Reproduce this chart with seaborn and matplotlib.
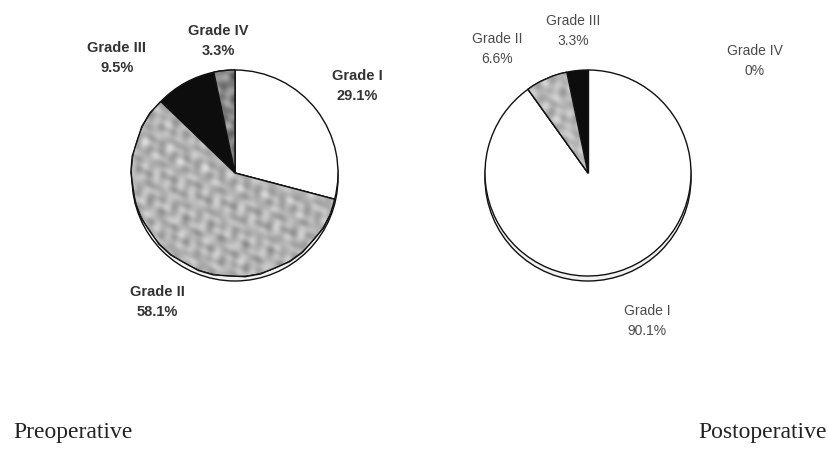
import numpy as np
import matplotlib
matplotlib.use("Agg")
import matplotlib.pyplot as plt
import seaborn as sns
from matplotlib.patches import Circle

# Severity grades and their share of patients (%)
grades = ["Grade I", "Grade II", "Grade III", "Grade IV"]
pre_values = [29.1, 58.1, 9.5, 3.3]
post_values = [90.1, 6.6, 3.3, 0]
panel_titles = ["Preoperative", "Postoperative"]

sns.set_theme(style="white")
plt.rcParams["font.family"] = ["Liberation Sans", "DejaVu Sans"]

W, H = 829, 449
fig = plt.figure(figsize=(W / 100, H / 100), dpi=100)
ax = fig.add_axes([0, 0, 1, 1])
ax.set_xlim(0, W)
ax.set_ylim(0, H)
ax.set_aspect("equal")
ax.axis("off")


def yup(y):
    """Convert a top-down pixel row into the upward data axis."""
    return H - y


def mottle(n):
    """Soft quasi-periodic stipple built from plane waves in several directions."""
    yy, xx = np.mgrid[0:n, 0:n].astype(float)
    t = np.zeros((n, n))
    angles = [0.0, 0.71, 1.33, 1.97, 2.64, 0.37, 2.28, 1.02]
    waves = [12.0, 14.5, 11.5, 16.0, 13.0, 23.0, 19.0, 8.0]
    weights = [1.0, 0.9, 1.0, 0.8, 0.9, 0.7, 0.7, 0.35]
    phases = [0.0, 1.7, 3.1, 4.4, 5.6, 2.3, 0.9, 3.9]
    for a, lam, w, ph in zip(angles, waves, weights, phases):
        k = 2 * np.pi / lam
        t += w * np.cos(k * (xx * np.cos(a) + yy * np.sin(a)) + ph)
    return t / np.abs(t).max()


# (centre x, centre y, radius) in pixels, shade per grade
panels = [
    dict(values=pre_values, center=(235, 173), radius=103,
         shades=[None, (0.70, 0.16), None, (0.52, 0.2)],
         colors=["white", "#b3b3b3", "#0d0d0d", "#858585"],
         label_pos=[(357, 86), (157, 302), (117, 58), (218, 41)],
         label_style=dict(fontweight="bold", color="#333333", fontsize=10.5),
         title_pos=(13, 433), title_ha="left"),
    dict(values=post_values, center=(588, 173), radius=103,
         shades=[None, (0.72, 0.15), None, (0.52, 0.2)],
         colors=["white", "#b8b8b8", "#0d0d0d", "#858585"],
         label_pos=[(647, 321), (497, 49), (573, 31), (755, 61)],
         label_style=dict(fontweight="normal", color="#4a4a4a", fontsize=10),
         title_pos=(827, 433), title_ha="right"),
]

for i, p in enumerate(panels):
    cx, cy = p["center"]
    r = p["radius"]
    c = (cx, yup(cy))

    # disc thickness seen below the pie face
    ax.add_patch(Circle((c[0], c[1] - 5), r, facecolor="#f2f2f2",
                        edgecolor="#111111", lw=1.0, zorder=1))

    wedges, _ = ax.pie(p["values"], center=c, radius=r, startangle=90,
                       counterclock=False, colors=p["colors"],
                       wedgeprops=dict(edgecolor="#111111", linewidth=1.0))
    for w in wedges:
        w.set_zorder(2)

    tex = mottle(2 * r)
    for w, shade in zip(wedges, p["shades"]):
        if shade is None:
            continue
        base, amp = shade
        img = ax.imshow(np.clip(base + amp * tex, 0, 1), cmap="gray",
                        vmin=0, vmax=1, origin="lower",
                        extent=(c[0] - r, c[0] + r, c[1] - r, c[1] + r),
                        zorder=2.5, interpolation="bilinear")
        img.set_clip_path(w)
        # redraw the outline on top of the texture
        ax.add_patch(plt.Polygon(w.get_path().transformed(w.get_patch_transform()).vertices,
                                 closed=True, fill=False, edgecolor="#111111",
                                 lw=1.0, zorder=3))

    for g, v, (lx, ly) in zip(grades, p["values"], p["label_pos"]):
        ax.text(lx, yup(ly), f"{g}\n{v:g}%", ha="center", va="center",
                linespacing=1.5, **p["label_style"])

    tx, ty = p["title_pos"]
    ax.text(tx, yup(ty), panel_titles[i], ha=p["title_ha"], va="center",
            family=["Liberation Serif", "DejaVu Serif"], fontsize=17,
            color="#222222")

ax.set_xlim(0, W)
ax.set_ylim(0, H)
fig.savefig("out.png", dpi=100, facecolor="white")
